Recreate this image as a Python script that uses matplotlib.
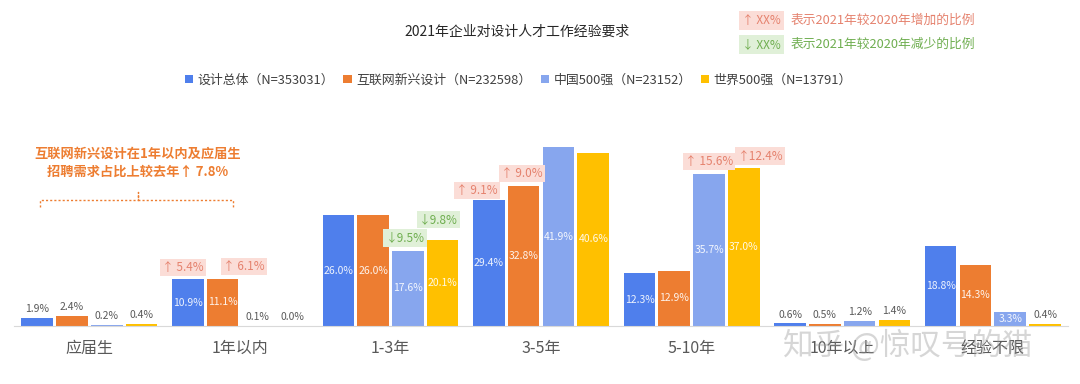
import numpy as np
import matplotlib
matplotlib.use("Agg")
import matplotlib.pyplot as plt

plt.rcParams['font.family'] = ['Noto Sans CJK SC', 'DejaVu Sans']

categories = ["应届生", "1年以内", "1-3年", "3-5年", "5-10年", "10年以上", "经验不限"]
series_names = ["设计总体（N=353031）", "互联网新兴设计（N=232598）",
                "中国500强（N=23152）", "世界500强（N=13791）"]
total = [1.9, 10.9, 26.0, 29.4, 12.3, 0.6, 18.8]
internet = [2.4, 11.1, 26.0, 32.8, 12.9, 0.5, 14.3]
china500 = [0.2, 0.1, 17.6, 41.9, 35.7, 1.2, 3.3]
world500 = [0.4, 0.0, 20.1, 40.6, 37.0, 1.4, 0.4]

# year-over-year change tags: (category, series, text)
chg_cat = [1, 1, 2, 2, 3, 3, 4, 4]
chg_ser = [0, 1, 2, 3, 0, 1, 2, 3]
chg_txt = ["↑ 5.4%", "↑ 6.1%", "↓9.5%", "↓9.8%", "↑ 9.1%", "↑ 9.0%", "↑ 15.6%", "↑12.4%"]
# small nudges of the tags (x in category units, y in %)
chg_dx = [-0.03, 0.14, -0.02, -0.03, -0.08, -0.01, 0.0, 0.11]
chg_dy = [2.8, 2.8, 3.0, 4.9, 2.4, 3.0, 2.8, 2.8]

colors = ["#4F7FEC", "#ED7D31", "#87A6EE", "#FFC000"]
up_fc, up_tc = "#FBDDD7", "#E5826E"
dn_fc, dn_tc = "#E0F0D8", "#6FAE50"
gray = "#595959"

fig = plt.figure(figsize=(10.8, 3.84), dpi=100)
ax = fig.add_axes([0.013, 0.151, 0.976, 0.556])

data = [total, internet, china500, world500]
x = np.arange(len(categories))
step = 0.231
width = 0.21
for j, vals in enumerate(data):
    xs = x + (j - 1.5) * step
    ax.bar(xs, vals, width, color=colors[j], label=series_names[j], zorder=2)
    for xi, v in zip(xs, vals):
        if v < 3:
            ax.text(xi, v + 0.9, f"{v:.1f}%", ha="center", va="bottom",
                    fontsize=7.5, color=gray)
        else:
            ax.text(xi, v / 2, f"{v:.1f}%", ha="center", va="center",
                    fontsize=7.5, color="white", alpha=0.9)

for c, s, t, dx, dy in zip(chg_cat, chg_ser, chg_txt, chg_dx, chg_dy):
    v = data[s][c]
    xi = c + (s - 1.5) * step + dx
    up = t.startswith("↑")
    ax.text(xi, v + dy, t, ha="center", va="center", fontsize=8.5,
            color=up_tc if up else dn_tc,
            bbox=dict(boxstyle="square,pad=0.18", fc=up_fc if up else dn_fc, ec="none"))

ax.set_xlim(-0.5, 6.5)
ax.set_ylim(0, 50)
ax.set_xticks(x)
ax.set_xticklabels(categories, fontsize=11.5, color=gray)
ax.tick_params(axis="x", length=0, pad=10)
ax.set_yticks([])
for sp in ["top", "left", "right"]:
    ax.spines[sp].set_visible(False)
ax.spines["bottom"].set_color("#D9D9D9")

# callout for 互联网新兴设计
ax.text(0.32, 38.2, "互联网新兴设计在1年以内及应届生\n招聘需求占比上较去年↑ 7.8%",
        ha="center", va="center", fontsize=9.5, fontweight="bold",
        color="#ED7D31", linespacing=1.35)
bx = [-0.325, -0.325, 0.32, 0.32, 0.32, 0.957, 0.957]
by = [27.9, 29.5, 29.5, 31.3, 29.5, 29.5, 27.9]
ax.plot(bx, by, color="#ED7D31", lw=1, ls=(0, (1.5, 1.5)), clip_on=False)

fig.text(0.479, 0.917, "2021年企业对设计人才工作经验要求", ha="center", va="center",
         fontsize=10, color="#262626")

fig.legend(loc="center", bbox_to_anchor=(0.48, 0.792), ncol=4, frameon=False,
           fontsize=9.3, handlelength=0.65, handleheight=0.65, handletextpad=0.35,
           columnspacing=0.7, labelcolor="#404040")

fig.text(0.705, 0.947, "↑ XX%", ha="center", va="center", fontsize=8.5, color=up_tc,
         bbox=dict(boxstyle="square,pad=0.25", fc=up_fc, ec="none"))
fig.text(0.732, 0.947, "表示2021年较2020年增加的比例", ha="left", va="center",
         fontsize=9.2, color=up_tc)
fig.text(0.705, 0.885, "↓ XX%", ha="center", va="center", fontsize=8.5, color=dn_tc,
         bbox=dict(boxstyle="square,pad=0.25", fc=dn_fc, ec="none"))
fig.text(0.732, 0.885, "表示2021年较2020年减少的比例", ha="left", va="center",
         fontsize=9.2, color=dn_tc)

fig.text(0.84, 0.1, "知乎 @惊叹号的猫", ha="center", va="center", fontsize=22,
         color="#9A9A9A", alpha=0.4)

fig.savefig("out.png", dpi=100, facecolor="white")
